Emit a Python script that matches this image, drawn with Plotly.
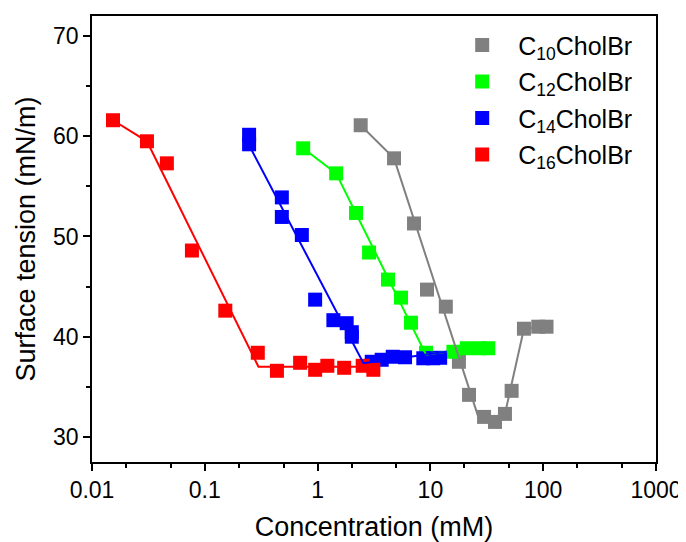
import plotly.graph_objects as go

# ---- data ----
c10_x = [2.41, 4.76, 7.16, 9.33, 13.7, 17.9, 22.0, 29.9, 37.4, 45.8, 52.5, 67.5, 90.4, 107]
c10_y = [61.1, 57.8, 51.3, 44.7, 43.0, 37.5, 34.2, 32.0, 31.5, 32.3, 34.6, 40.8, 41.0, 41.0]
c10_fit_x = [2.41, 4.76, 26.5, 37.4, 45.8, 67.5, 107]
c10_fit_y = [61.1, 57.8, 32.05, 31.5, 32.3, 40.8, 41.0]

c12_x = [0.745, 1.46, 2.19, 2.86, 4.21, 5.49, 6.73, 9.14, 16.0, 21.0, 27.5, 32.6]
c12_y = [58.8, 56.3, 52.35, 48.4, 45.7, 43.9, 41.4, 38.4, 38.5, 38.85, 38.85, 38.85]
c12_fit_x = [0.745, 1.46, 9.14, 13.9]
c12_fit_y = [58.8, 56.3, 38.2, 38.5]

c14_x = [0.247, 0.247, 0.482, 0.482, 0.725, 0.951, 1.38, 1.81, 2.01, 2.01,
         3.02, 3.70, 4.64, 5.96, 8.65, 10.6, 12.2]
c14_y = [60.15, 59.2, 53.9, 51.95, 50.15, 43.7, 41.65, 41.35, 40.45, 40.0,
         37.5, 37.7, 38.0, 37.95, 37.85, 37.85, 37.9]
c14_fit_x = [0.247, 2.55, 13.9]
c14_fit_y = [59.1, 37.35, 38.5]

c16_x = [0.01535, 0.0307, 0.0461, 0.0769, 0.152, 0.295, 0.436, 0.700, 0.951, 1.22, 1.72, 2.51, 3.12]
c16_y = [61.6, 59.5, 57.3, 48.6, 42.6, 38.4, 36.6, 37.4, 36.7, 37.1, 36.9, 37.1, 36.7]
c16_fit_x = [0.01535, 0.0307, 0.299, 2.63]
c16_fit_y = [61.6, 59.5, 37.0, 37.0]

names = ["C<sub>10</sub>CholBr", "C<sub>12</sub>CholBr", "C<sub>14</sub>CholBr", "C<sub>16</sub>CholBr"]
colors = ["#808080", "#00ff00", "#0000ff", "#ff0000"]

x_ticks = [0.01, 0.1, 1, 10, 100, 1000]
x_tick_text = ["0.01", "0.1", "1", "10", "100", "1000"]
y_ticks = [30, 40, 50, 60, 70]

FONT = "Arial, Liberation Sans, sans-serif"

fig = go.Figure()

series = [(c10_x, c10_y), (c12_x, c12_y), (c14_x, c14_y), (c16_x, c16_y)]
fits = [(c10_fit_x, c10_fit_y), (c12_fit_x, c12_fit_y), (c14_fit_x, c14_fit_y), (c16_fit_x, c16_fit_y)]

for i, ((sx, sy), name, col) in enumerate(zip(series, names, colors)):
    fig.add_trace(go.Scatter(
        x=sx, y=sy, mode="markers", name=name, legendgroup=f"g{i}",
        marker=dict(symbol="square", size=14, color=col, line=dict(width=0)),
    ))

for (fx, fy), col in zip(fits, colors):
    fig.add_trace(go.Scatter(
        x=fx, y=fy, mode="lines", showlegend=False, hoverinfo="skip",
        line=dict(color=col, width=2),
    ))

axis_common = dict(
    showline=True, linecolor="black", linewidth=1.6, mirror=True,
    ticks="outside", ticklen=7, tickwidth=1.6, tickcolor="black",
    showgrid=False, zeroline=False, automargin=False,
    tickfont=dict(family=FONT, size=23, color="black"),
)

fig.update_xaxes(
    type="log", range=[-2, 3],
    tickvals=x_ticks, ticktext=x_tick_text,
    minor=dict(ticks="outside", ticklen=4, tickwidth=1.6, tickcolor="black", showgrid=False),
    title=dict(text="Concentration (mM)", font=dict(family=FONT, size=27, color="black"), standoff=18),
    **axis_common,
)
fig.update_yaxes(
    range=[27.5, 72], tickvals=y_ticks,
    minor=dict(ticks="outside", ticklen=4, tickwidth=1.6, tickcolor="black", dtick=5, showgrid=False),
    title=dict(text="Surface tension (mN/m)", font=dict(family=FONT, size=27, color="black"), standoff=10),
    **axis_common,
)

# page body has an 8px margin, so the figure is drawn 8px smaller and offset
fig.update_layout(
    width=678, height=534,
    margin=dict(l=84, r=30, t=8, b=80),
    paper_bgcolor="white", plot_bgcolor="white",
    font=dict(family=FONT, color="black"),
    legend=dict(
        x=0.628, y=0.986, xanchor="left", yanchor="top",
        bgcolor="rgba(0,0,0,0)", borderwidth=0,
        font=dict(family=FONT, size=25, color="black"),
        itemwidth=62, tracegroupgap=1,
    ),
    showlegend=True,
)

fig.write_html("out.html")
